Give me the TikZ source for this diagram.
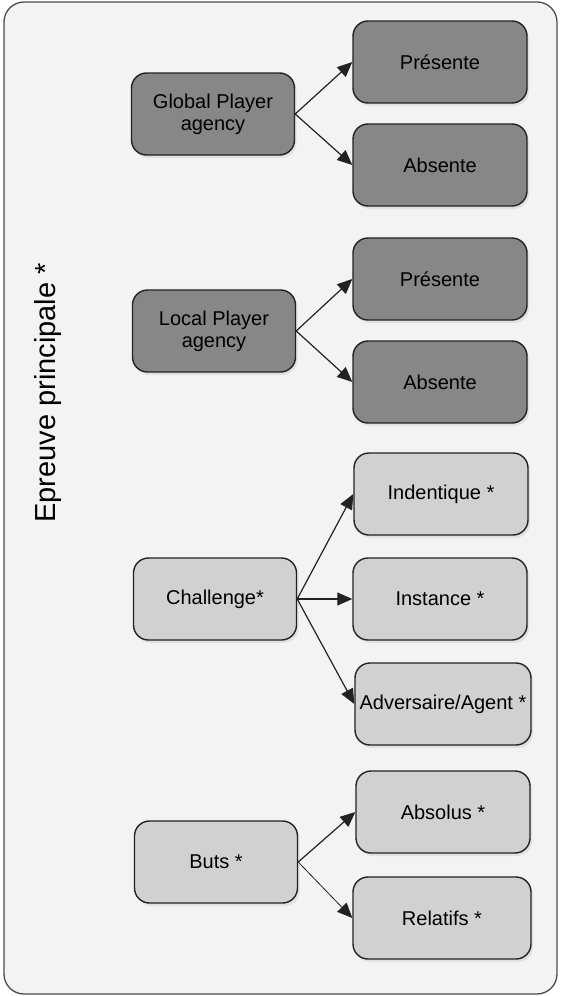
\documentclass[tikz,border=0pt]{standalone}
\usepackage{fontspec}
\setmainfont{Liberation Sans}
\usetikzlibrary{arrows.meta,shadows}
\definecolor{darkfill}{HTML}{878787}
\definecolor{lightfill}{HTML}{D1D1D1}
\definecolor{framefill}{HTML}{F3F3F3}
\definecolor{edgeline}{HTML}{222222}
\begin{document}
\begin{tikzpicture}[x=1pt,y=-1pt,
  box/.style={draw=edgeline,line width=1.4pt,rounded corners=15pt,align=center,
    font=\fontsize{20}{22}\selectfont,inner sep=1pt,minimum height=82pt,
    drop shadow={opacity=0.15,shadow xshift=2pt,shadow yshift=-3pt}},
  parentbox/.style={box,minimum width=163pt},
  childbox/.style={box,minimum width=174pt},
  link/.style={draw=edgeline,line width=1.2pt,-{Triangle[length=15pt,width=13pt]}}]
\useasboundingbox (0,0) rectangle (561,996);
\draw[fill=framefill,draw=black!70,line width=1.3pt,rounded corners=20pt] (4,2) rectangle (557,994);

\node[rotate=90,font=\fontsize{29}{32}\selectfont] (title) at (48,393) {Epreuve principale *};

\node[parentbox,fill=darkfill] (gpa) at (213,114) {Global Player\\agency};
\node[childbox,fill=darkfill] (gpres) at (440,62) {Présente};
\node[childbox,fill=darkfill] (gabs) at (440,165) {Absente};

\node[parentbox,fill=darkfill] (lpa) at (214,331) {Local Player\\agency};
\node[childbox,fill=darkfill] (lpres) at (440,279) {Présente};
\node[childbox,fill=darkfill] (labs) at (440,382) {Absente};

\node[parentbox,fill=lightfill] (chal) at (215,599) {Challenge*};
\node[childbox,fill=lightfill] (ident) at (441,494) {Indentique *};
\node[childbox,fill=lightfill] (inst) at (440,599) {Instance *};
\node[childbox,fill=lightfill,minimum width=176pt] (adv) at (443,704) {Adversaire/Agent *};

\node[parentbox,fill=lightfill] (buts) at (216,862) {Buts *};
\node[childbox,fill=lightfill] (abso) at (443,812) {Absolus *};
\node[childbox,fill=lightfill,minimum width=178pt] (rel) at (442,918) {Relatifs *};

\draw[link] (gpa.east) -- (gpres.west);
\draw[link] (gpa.east) -- (gabs.west);
\draw[link] (lpa.east) -- (lpres.west);
\draw[link] (lpa.east) -- (labs.west);
\draw[link] (chal.east) -- (ident.west);
\draw[link] (chal.east) -- (inst.west);
\draw[link] (chal.east) -- (adv.west);
\draw[link] (buts.east) -- (abso.west);
\draw[link,line width=0.8pt] (buts.east) -- (rel.west);
\end{tikzpicture}
\end{document}
